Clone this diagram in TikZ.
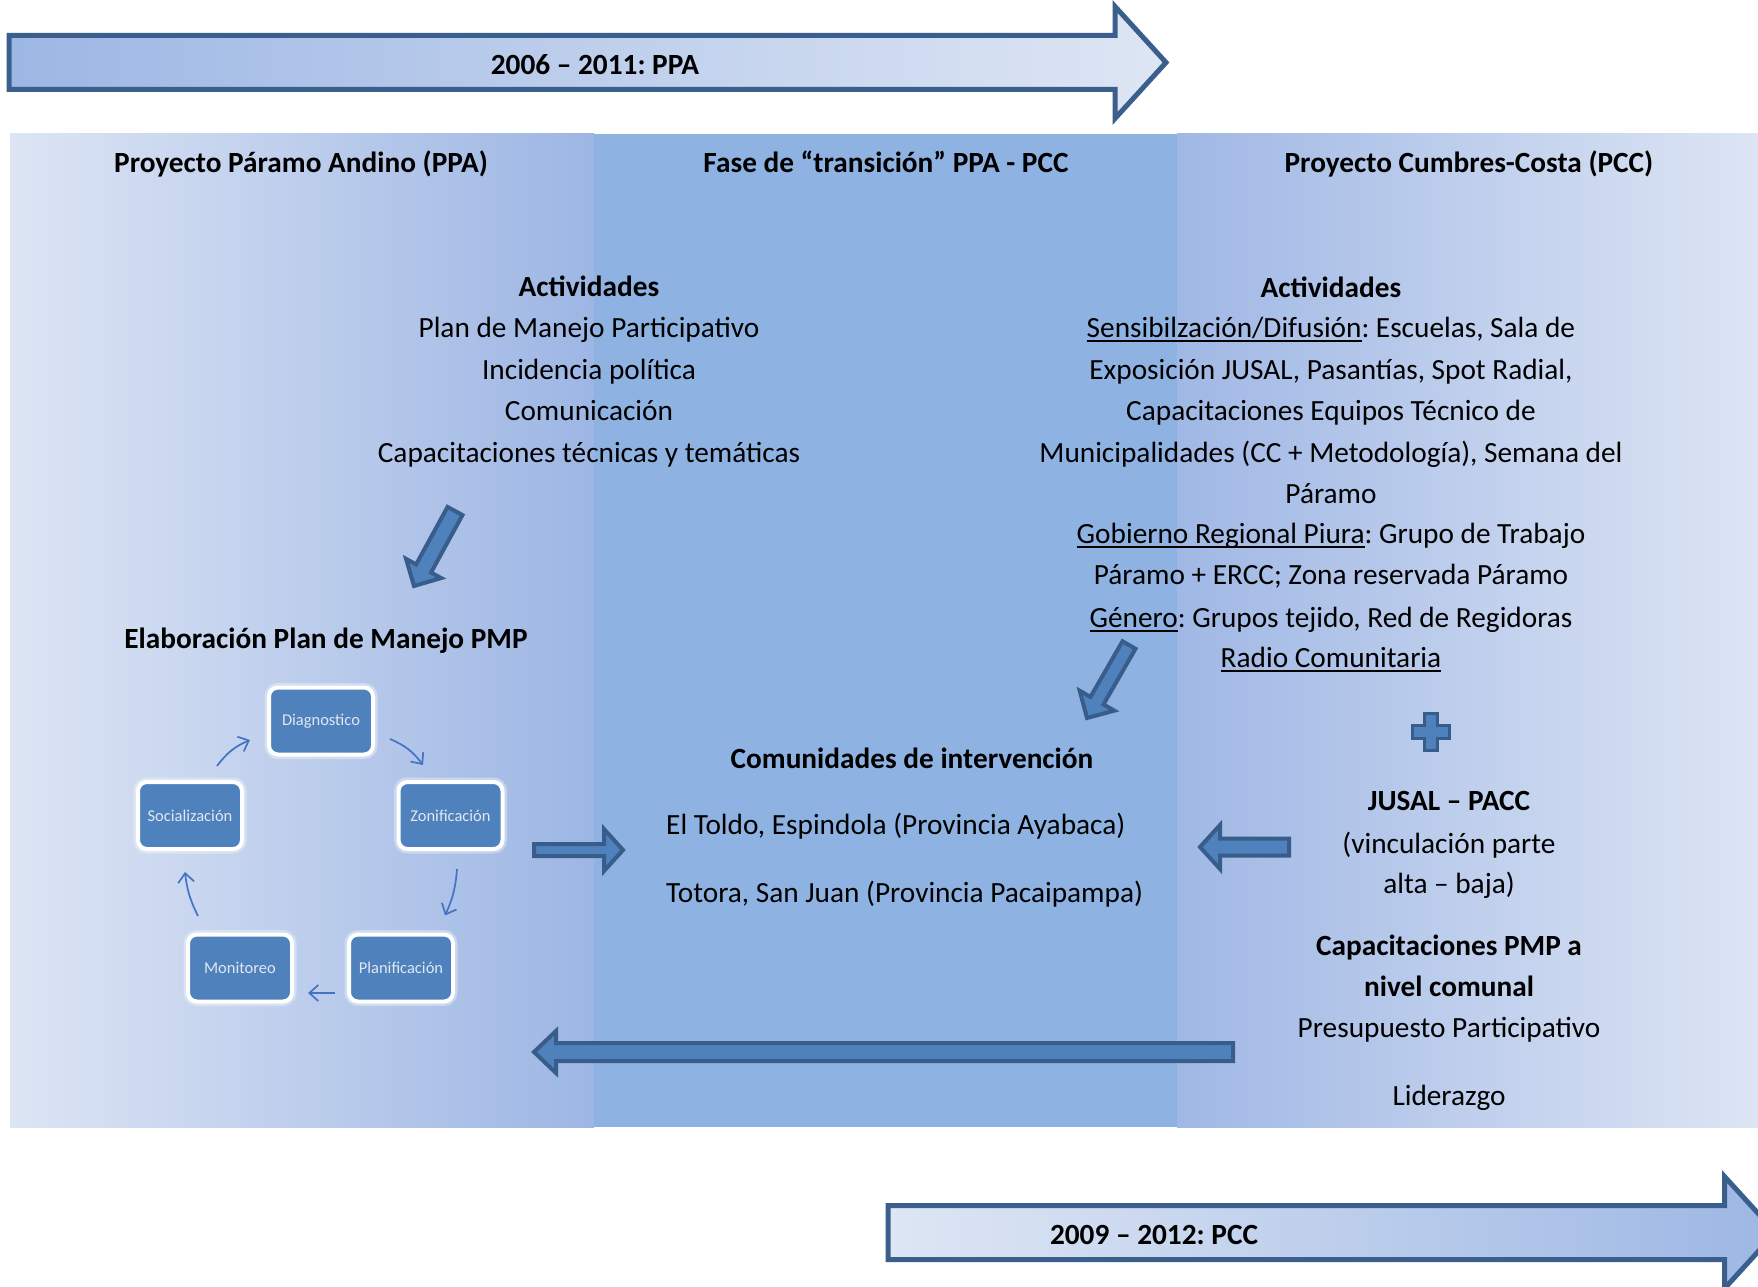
\documentclass[tikz,border=0pt]{standalone}
\usepackage{fontspec}
\setmainfont{Carlito}
\frenchspacing
\usetikzlibrary{calc,arrows.meta}
\definecolor{bglight}{RGB}{221,229,244}
\definecolor{bgleftdark}{RGB}{157,182,228}
\definecolor{bgmid}{RGB}{142,179,227}
\definecolor{bgrightdark}{RGB}{160,184,229}
\definecolor{arrfill}{RGB}{79,129,189}
\definecolor{arrline}{RGB}{56,93,138}
\definecolor{tlline}{RGB}{59,95,140}
\definecolor{tldark}{RGB}{157,183,228}
\definecolor{tllight}{RGB}{222,230,244}
\definecolor{cycline}{RGB}{68,114,196}
\definecolor{boxtext}{RGB}{225,232,242}
\newcommand{\ulx}[1]{{\setbox0=\hbox{#1}\rlap{\rule[-4pt]{\wd0}{1.6pt}}\box0}}
\newcommand{\barrow}[6]{%
  \coordinate (hb) at ($(#3)!#6!(#2)$);
  \draw[#1] ($(#2)!#4!90:(#3)$) -- ($(hb)!#4!90:(#3)$) -- ($(hb)!#5!90:(#3)$) -- (#3)
    -- ($(hb)!#5!-90:(#3)$) -- ($(hb)!#4!-90:(#3)$) -- ($(#2)!#4!-90:(#3)$) -- cycle;
}
\tikzset{
  txt/.style={font=\fontsize{29.3}{35}\selectfont, inner sep=0pt, text height=25pt, text depth=4pt, anchor=center},
  btxt/.style={txt, font=\fontsize{29.3}{35}\selectfont\bfseries},
  blockarrow/.style={draw=arrline, fill=arrfill, line width=4pt},
  timeline/.style={draw=tlline, line width=5pt},
  cycbox/.style={draw=white, line width=4pt, fill=arrfill, rounded corners=9pt,
    minimum width=104pt, minimum height=67pt, inner sep=0pt, text=boxtext,
    font=\fontsize{16.5}{19}\selectfont,
    preaction={draw=white, opacity=0.35, line width=9pt}},
  cyc/.style={draw=cycline, line width=1.7pt, -{Straight Barb[length=9pt,width=16pt]}}
}
\begin{document}
\begin{tikzpicture}[x=1pt,y=-1pt]
\useasboundingbox (0,0) rectangle (1758,1287);
\clip (0,0) rectangle (1758,1287);
\fill[white] (0,0) rectangle (1758,1287);
% background columns
\shade[left color=bglight,right color=bgleftdark] (10,134) rectangle (594,1127);
\fill[bgmid] (594,134) rectangle (1177,1127);
\shade[left color=bgrightdark,right color=bglight] (1177,134) rectangle (1758,1127);

% timeline arrows
\coordinate (t1a) at (9,62.5);
\coordinate (t1b) at (1166,62.5);
\barrow{timeline, left color=tldark, right color=tllight}{t1a}{t1b}{27pt}{56pt}{51pt}
\node[btxt] (tl1) at (595,64) {2006 – 2011: PPA};

\coordinate (t2a) at (888,1232.5);
\coordinate (t2b) at (1775.5,1232.5);
\barrow{timeline, left color=tllight, right color=tldark}{t2a}{t2b}{27pt}{56pt}{51pt}
\node[btxt] (tl2) at (1154,1234) {2009 – 2012: PCC};

% headers
\node[btxt] (h1) at (301,161.5) {Proyecto Páramo Andino (PPA)};
\node[btxt] (h2) at (886,161.5) {Fase de “transición” PPA - PCC};
\node[btxt] (h3) at (1469,161.5) {Proyecto Cumbres-Costa (PCC)};

% left activities
\node[btxt] (la0) at (589,286) {Actividades};
\node[txt] (la1) at (589,327) {Plan de Manejo Participativo};
\node[txt] (la2) at (589,369) {Incidencia política};
\node[txt] (la3) at (589,410) {Comunicación};
\node[txt] (la4) at (589,452) {Capacitaciones técnicas y temáticas};

% right activities
\node[btxt] (ra0) at (1331,287) {Actividades};
\node[txt] (ra1) at (1331,327) {\ulx{Sensibilzación/Difusión}: Escuelas, Sala de};
\node[txt] (ra2) at (1331,369) {Exposición JUSAL, Pasantías, Spot Radial,};
\node[txt] (ra3) at (1331,410) {Capacitaciones Equipos Técnico de};
\node[txt] (ra4) at (1331,452) {Municipalidades (CC + Metodología), Semana del};
\node[txt] (ra5) at (1331,493) {Páramo};
\node[txt] (ra6) at (1331,533) {\ulx{Gobierno Regional Piura}: Grupo de Trabajo};
\node[txt] (ra7) at (1331,574) {Páramo + ERCC; Zona reservada Páramo};
\node[txt] (ra8) at (1331,617) {\ulx{Género}: Grupos tejido, Red de Regidoras};
\node[txt] (ra9) at (1331,657) {\ulx{Radio Comunitaria}};

% Elaboración
\node[btxt] (elab) at (326,638) {Elaboración Plan de Manejo PMP};

% cycle
\node[cycbox] (diag) at (321,721) {Diagnostico};
\node[cycbox] (zon) at (450.5,815.5) {Zonificación};
\node[cycbox] (plan) at (401,968) {Planificación};
\node[cycbox] (mon) at (240,968) {Monitoreo};
\node[cycbox] (soc) at (190,815.5) {Socialización};
\draw[cyc] ([xshift=27pt,yshift=14pt]soc.north) to[bend left=15] ([xshift=-17pt,yshift=-19pt]diag.west);
\draw[cyc] ([xshift=15pt,yshift=-18pt]diag.east) to[bend left=15] ([xshift=-27.5pt,yshift=15pt]zon.north);
\draw[cyc] ([xshift=6.5pt,yshift=-18pt]zon.south) to[bend left=10] ([xshift=44pt,yshift=17pt]plan.north);
\draw[cyc] ([xshift=-12pt,yshift=-25pt]plan.west) -- ([xshift=14pt,yshift=-25pt]mon.east);
\draw[cyc] ([xshift=-42pt,yshift=16.5pt]mon.north) to[bend left=10] ([xshift=-5pt,yshift=-21pt]soc.south);

% communities
\node[btxt] (com) at (912,758) {Comunidades de intervención};
\node[txt, anchor=west] (com1) at (666,824) {El Toldo, Espindola (Provincia Ayabaca)};
\node[txt, anchor=west] (com2) at (666,892) {Totora, San Juan (Provincia Pacaipampa)};

% right lower
\node[btxt] (jus) at (1449,800) {JUSAL – PACC};
\node[txt] (jus1) at (1449,843) {(vinculación parte};
\node[txt] (jus2) at (1449,883) {alta – baja)};
\node[btxt] (cap1) at (1449,945) {Capacitaciones PMP a};
\node[btxt] (cap2) at (1449,986) {nivel comunal};
\node[txt] (pres) at (1449,1027) {Presupuesto Participativo};
\node[txt] (lid) at (1449,1095) {Liderazgo};

% plus sign
\draw[draw=arrline, fill=arrfill, line width=3pt] (1424.5,713.5) -- (1437.5,713.5) -- (1437.5,725.5) -- (1449.5,725.5) -- (1449.5,738.5) -- (1437.5,738.5) -- (1437.5,750.5) -- (1424.5,750.5) -- (1424.5,738.5) -- (1412.5,738.5) -- (1412.5,725.5) -- (1424.5,725.5) -- cycle;

% block arrows
\coordinate (a1t) at (455,511); \coordinate (a1h) at (414,586);
\barrow{blockarrow}{a1t}{a1h}{8.5pt}{20pt}{20pt}
\coordinate (a2t) at (1129,645); \coordinate (a2h) at (1087,718);
\barrow{blockarrow}{a2t}{a2h}{7.5pt}{20pt}{20pt}
\coordinate (a3t) at (534,850); \coordinate (a3h) at (623,850);
\barrow{blockarrow}{a3t}{a3h}{6pt}{21pt}{19pt}
\coordinate (a4t) at (1289,847); \coordinate (a4h) at (1200,847);
\barrow{blockarrow}{a4t}{a4h}{8.5pt}{22pt}{20pt}
\coordinate (a5t) at (1233,1052); \coordinate (a5h) at (534,1052);
\barrow{blockarrow}{a5t}{a5h}{9pt}{21pt}{22pt}
\end{tikzpicture}
\end{document}
